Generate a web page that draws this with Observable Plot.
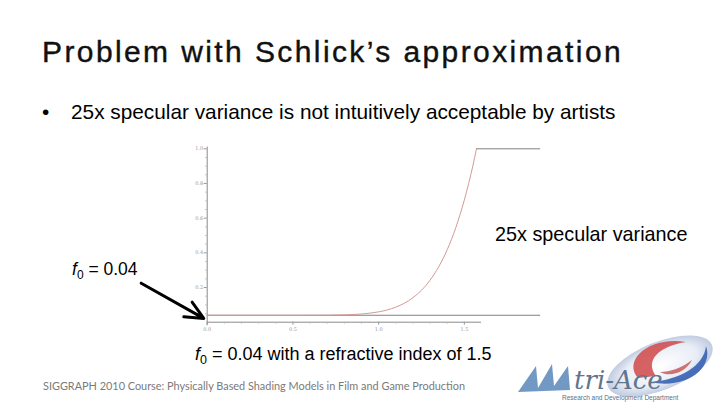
<!DOCTYPE html>
<html>
<head>
<meta charset="utf-8">
<script src="https://cdn.jsdelivr.net/npm/d3@7"></script>
<script src="https://cdn.jsdelivr.net/npm/@observablehq/plot@0.6"></script>
<style>
  html, body { margin: 0; padding: 0; background: #fff; }
  #slide { position: relative; width: 720px; height: 405px; overflow: hidden; background: #fff; font-family: "Liberation Sans", Arial, sans-serif; }
  .t { position: absolute; white-space: nowrap; line-height: 1; color: #000; }
  #chart { position: absolute; left: 0; top: 0; }
</style>
</head>
<body>
<div id="slide">
  <div id="chart"></div>
  <div class="t" style="left:42px; top:36.5px; font-size:30px; letter-spacing:2.4px; color:#111; -webkit-text-stroke:0.4px #111;">Problem with Schlick’s approximation</div>
  <div class="t" style="left:42px; top:102px; font-size:20.8px;">•</div>
  <div class="t" style="left:71px; top:102px; font-size:20.8px;">25x specular variance is not intuitively acceptable by artists</div>
  <div class="t" style="left:495px; top:225px; font-size:19.8px;">25x specular variance</div>
  <div class="t" style="left:72px; top:261px; font-size:17.5px;"><i>f</i><sub style="font-size:12px; vertical-align:-4px;">0</sub> = 0.04</div>
  <div class="t" style="left:195px; top:345px; font-size:18px;"><i>f</i><sub style="font-size:12.5px; vertical-align:-4px;">0</sub> = 0.04 with a refractive index of 1.5</div>
  <div class="t" style="left:43px; top:380.5px; font-size:10.9px; color:#7a7a7a; font-family:Lato, 'Open Sans', sans-serif;">SIGGRAPH 2010 Course: Physically Based Shading Models in Film and Game Production</div>
  <svg style="position:absolute; left:510px; top:332px;" width="210" height="73" viewBox="0 0 210 73">
    <defs>
      <radialGradient id="g1" cx="0.5" cy="0.5" r="0.5">
        <stop offset="0" stop-color="#ffffff"/>
        <stop offset="0.7" stop-color="#e6ebf4"/>
        <stop offset="1" stop-color="#b9c6de"/>
      </radialGradient>
    </defs>
    <ellipse cx="150" cy="34" rx="56" ry="24" fill="url(#g1)" opacity="0.9" transform="rotate(-22 150 34)"/>
    <path d="M128,46 C112,28 140,4 176,10 C150,14 134,28 146,44 Z" fill="#d04848" opacity="0.85"/>
    <path d="M140,50 C176,58 204,36 196,14 C194,34 170,48 140,50 Z" fill="#2f5bb0" opacity="0.85"/>
    <path d="M150,40 C160,46 176,40 182,28 C172,36 160,40 150,40 Z" fill="#c03a3a" opacity="0.7"/>
    <path d="M8,60 L26,34 L28,56 L42,32 L44,54 L58,34 L60,58 Z" fill="#4f7fb5" opacity="0.8"/>
    <text x="64" y="57" font-family="'DejaVu Serif', serif" font-style="italic" font-size="26" fill="#5f7590">tri-Ace</text>
    <text x="52" y="68" font-family="'Liberation Sans', sans-serif" font-size="6.5" fill="#5a6f8a">Research and Development Department</text>
  </svg>
</div>
<script>
// Curve: Fresnel reflectance vs. angle (radians)
const theta   = [0, 0.1, 0.2, 0.3, 0.4, 0.5, 0.6, 0.7, 0.8, 0.9, 1.0, 1.05, 1.1, 1.15, 1.2, 1.25, 1.3, 1.35, 1.4, 1.45, 1.5, 1.55, 1.5708];
const fresnel = [0.04, 0.04, 0.04, 0.04, 0.04, 0.04, 0.0402, 0.0407, 0.0425, 0.0474, 0.0597, 0.0707, 0.0868, 0.1095, 0.1412, 0.1844, 0.2424, 0.3189, 0.4182, 0.5452, 0.7052, 0.9042, 1.0];

const xTicks = [0, 0.5, 1.0, 1.5];
const xTickLabels = ["0.0", "0.5", "1.0", "1.5"];
const xMinorTicks = [0.1, 0.2, 0.3, 0.4, 0.6, 0.7, 0.8, 0.9, 1.1, 1.2, 1.3, 1.4];
const yTicks = [0.2, 0.4, 0.6, 0.8, 1.0];
const yTickLabels = ["0.2", "0.4", "0.6", "0.8", "1.0"];
const yMinorTicks = [0.05, 0.1, 0.15, 0.25, 0.3, 0.35, 0.45, 0.5, 0.55, 0.65, 0.7, 0.75, 0.85, 0.9, 0.95];

// horizontal reference levels: f0 and 1.0 (25x)
const refLevel = [0.04, 1.0];
const refStart = [0, 1.5708];
const refEnd   = [1.945, 1.945];

// annotation arrow pointing at f0 (data coordinates)
const arrowFrom = [-0.385, 0.225];
const arrowTo   = [-0.02, 0.022];

const curve = theta.map((t, i) => ({t, f: fresnel[i]}));
const refs = refLevel.map((v, i) => ({v, x1: refStart[i], x2: refEnd[i]}));
const arrows = [{x1: arrowFrom[0], y1: arrowFrom[1], x2: arrowTo[0], y2: arrowTo[1]}];

const chart = Plot.plot({
  width: 720,
  height: 405,
  marginLeft: 206.7,
  marginRight: 239,
  marginTop: 148.3,
  marginBottom: 83.3,
  x: {domain: [0, 1.6]},
  y: {domain: [0, 1]},
  style: {background: "transparent", overflow: "visible", fontFamily: "'DejaVu Serif', serif"},
  marks: [
    Plot.ruleY([0], {x1: 0, x2: 1.6, stroke: "#8a8a8a", strokeWidth: 1}),
    Plot.ruleX([0], {y1: -0.02, y2: 1.01, stroke: "#8a8a8a", strokeWidth: 1}),
    Plot.axisX({ticks: xTicks, tickFormat: (d, i) => xTickLabels[i], tickSize: 3, tickPadding: 2, fontSize: 5, stroke: "#999", color: "#999"}),
    Plot.axisX({ticks: xMinorTicks, tickFormat: null, text: null, tickSize: 2, stroke: "#bbb"}),
    Plot.axisY({ticks: yTicks, tickFormat: (d, i) => yTickLabels[i], tickSize: 3, tickPadding: 1, fontSize: 5, stroke: "#999", color: "#999"}),
    Plot.axisY({ticks: yMinorTicks, tickFormat: null, text: null, tickSize: 1.5, stroke: "#bbb"}),
    Plot.ruleY(refs, {y: "v", x1: "x1", x2: "x2", stroke: "#808080", strokeWidth: 1}),
    Plot.line(curve, {x: "t", y: "f", stroke: "#d49a96", strokeWidth: 1, curve: "monotone-x"}),
    Plot.arrow(arrows, {x1: "x1", y1: "y1", x2: "x2", y2: "y2", stroke: "#000", strokeWidth: 3, headLength: 10, headAngle: 50})
  ]
});
document.getElementById("chart").appendChild(chart);
</script>
</body>
</html>
